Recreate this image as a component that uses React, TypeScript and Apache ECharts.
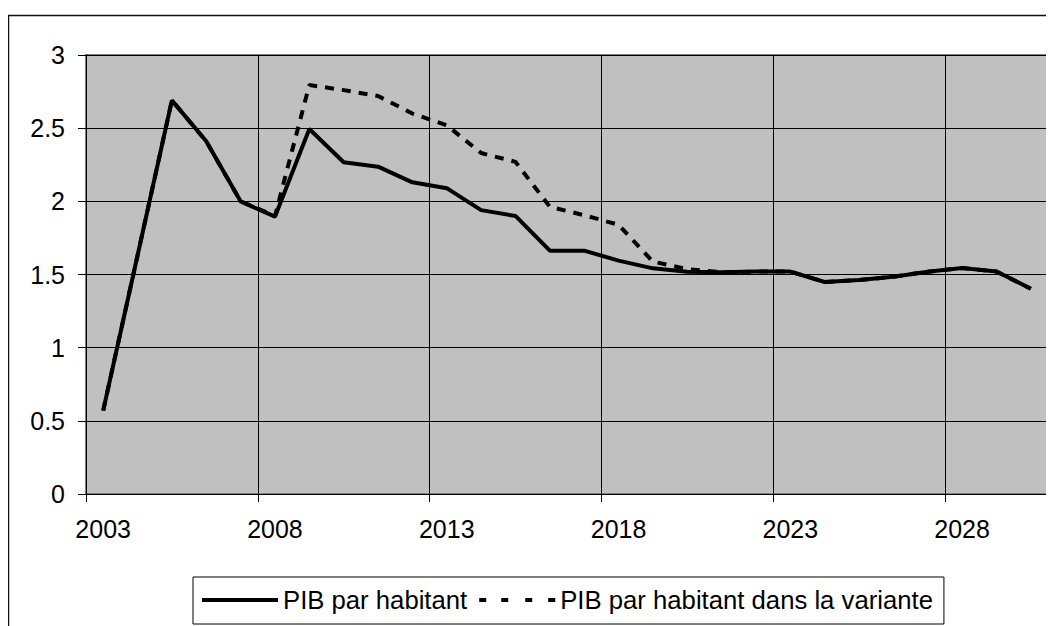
import React, { useEffect, useRef } from "react";
import * as echarts from "echarts";

const years = [
  "2003", "2004", "2005", "2006", "2007", "2008", "2009", "2010", "2011", "2012",
  "2013", "2014", "2015", "2016", "2017", "2018", "2019", "2020", "2021", "2022",
  "2023", "2024", "2025", "2026", "2027", "2028", "2029", "2030",
];

const pibParHabitant = [
  0.57, 1.63, 2.69, 2.41, 2.0, 1.895, 2.494, 2.267, 2.237, 2.13,
  2.09, 1.94, 1.9, 1.663, 1.663, 1.595, 1.542, 1.519, 1.515, 1.52,
  1.52, 1.449, 1.462, 1.485, 1.519, 1.544, 1.52, 1.403,
];

const pibVariante = [
  0.57, 1.63, 2.69, 2.41, 2.0, 1.9, 2.795, 2.76, 2.72, 2.6,
  2.52, 2.33, 2.27, 1.963, 1.905, 1.84, 1.588, 1.537, 1.515, 1.52,
  1.52, 1.449, 1.462, 1.485, 1.519, 1.544, 1.52, 1.403,
];

const seriesNames = ["PIB par habitant", "PIB par habitant dans la variante"];

const FONT = "'Liberation Sans', Arial, sans-serif";

const SOLID_ICON = "path://M0,0h76v4h-76z";
const DASH_ICON = "path://M0,0h7v4h-7zM22,0h7v4h-7zM46,0h7v4h-7zM69,0h7v4h-7z";

export default function App() {
  const ref = useRef<HTMLDivElement>(null);

  useEffect(() => {
    if (!ref.current) return;
    const chart = echarts.init(ref.current, undefined, { renderer: "svg" });
    chart.setOption({
      animation: false,
      backgroundColor: "#ffffff",
      textStyle: { fontFamily: FONT, color: "#000" },
      graphic: [
        {
          type: "rect",
          silent: true,
          shape: { x: 0.5, y: 7.5, width: 1200, height: 1000 },
          style: { fill: "none", stroke: "#111", lineWidth: 1.5 },
          z: 100,
        },
      ],
      grid: {
        left: 78,
        top: 47,
        width: 962,
        height: 439,
        show: true,
        backgroundColor: "#C0C0C0",
        borderColor: "#808080",
        borderWidth: 2,
      },
      legend: {
        left: 185,
        top: 569,
        orient: "horizontal",
        padding: [10, 11, 11, 9],
        itemGap: 12,
        itemWidth: 76,
        itemHeight: 4,
        borderColor: "#000",
        borderWidth: 1,
        backgroundColor: "#fff",
        textStyle: { fontSize: 25.7, color: "#000", fontFamily: FONT },
        data: [
          { name: seriesNames[0], icon: SOLID_ICON, itemStyle: { color: "#000" } },
          { name: seriesNames[1], icon: DASH_ICON, itemStyle: { color: "#000" } },
        ],
      },
      xAxis: {
        type: "category",
        data: years,
        boundaryGap: true,
        axisLine: { show: true, lineStyle: { color: "#000", width: 1 } },
        axisTick: { show: true, interval: 4, length: 8, lineStyle: { color: "#000" } },
        axisLabel: { interval: 4, margin: 22, fontSize: 25, color: "#000", fontFamily: FONT },
        splitLine: { show: true, interval: 4, lineStyle: { color: "#000", width: 1 } },
      },
      yAxis: {
        type: "value",
        min: 0,
        max: 3,
        interval: 0.5,
        axisLine: { show: true, lineStyle: { color: "#000", width: 1 } },
        axisTick: { show: true, length: 8, lineStyle: { color: "#000" } },
        axisLabel: { margin: 21, fontSize: 25, color: "#000", fontFamily: FONT },
        splitLine: { show: true, lineStyle: { color: "#000", width: 1 } },
      },
      series: [
        {
          name: seriesNames[0],
          type: "line",
          data: pibParHabitant,
          symbol: "none",
          lineStyle: { color: "#000", width: 4, type: "solid" },
          itemStyle: { color: "#000" },
        },
        {
          name: seriesNames[1],
          type: "line",
          data: pibVariante,
          symbol: "none",
          lineStyle: { color: "#000", width: 4, type: [9, 8] },
          itemStyle: { color: "#000" },
        },
      ],
    });
    return () => chart.dispose();
  }, []);

  return <div ref={ref} style={{ width: 1046, height: 618 }} />;
}
